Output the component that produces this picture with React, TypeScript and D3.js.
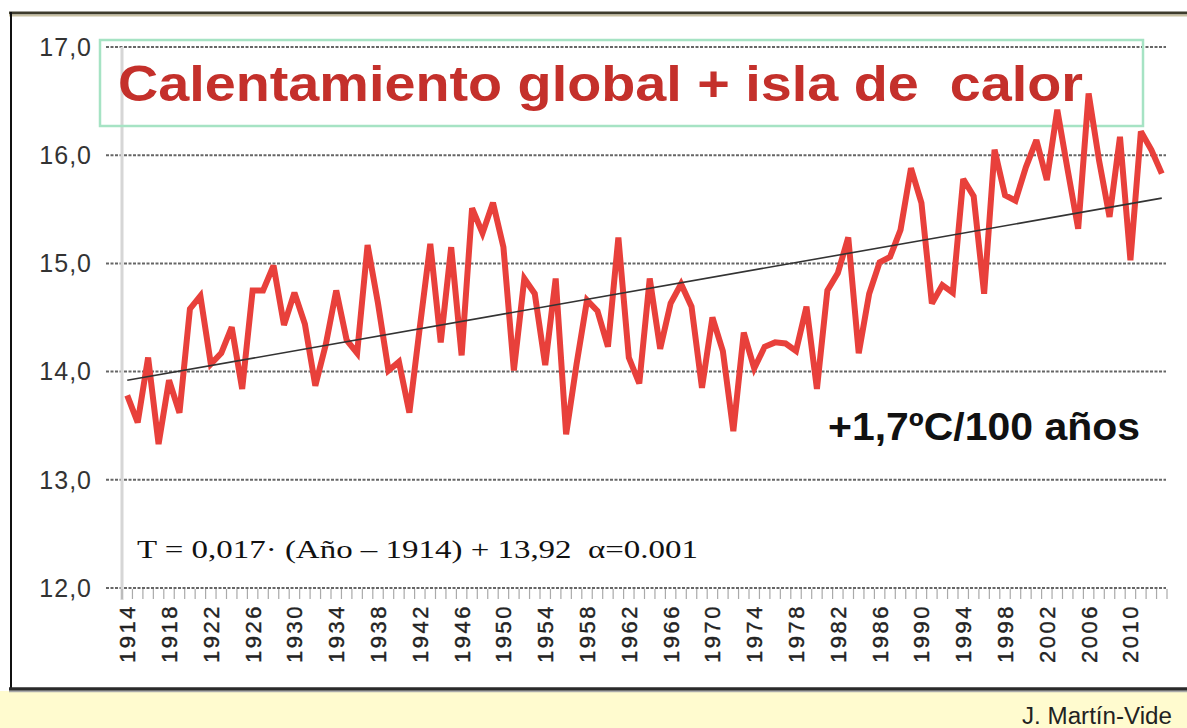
import React, { useEffect, useRef } from 'react';
import * as d3 from 'd3';

// years 1914..2013
const years: number[] = d3.range(1914, 2014);

// mean annual temperature (ºC)
const temps: number[] = [
  13.78, 13.53, 14.13, 13.33, 13.92, 13.62, 14.58, 14.70, 14.07, 14.17,
  14.41, 13.84, 14.75, 14.75, 14.98, 14.43, 14.73, 14.44, 13.87, 14.25,
  14.75, 14.29, 14.17, 15.17, 14.63, 14.01, 14.09, 13.62, 14.41, 15.18,
  14.27, 15.15, 14.15, 15.51, 15.28, 15.56, 15.15, 14.01, 14.86, 14.72,
  14.06, 14.86, 13.42, 14.07, 14.66, 14.56, 14.23, 15.24, 14.13, 13.89,
  14.86, 14.21, 14.63, 14.81, 14.60, 13.85, 14.50, 14.19, 13.45, 14.36,
  14.03, 14.23, 14.27, 14.26, 14.19, 14.60, 13.84, 14.75, 14.91, 15.24,
  14.17, 14.72, 15.01, 15.06, 15.31, 15.88, 15.56, 14.63, 14.80, 14.73,
  15.78, 15.62, 14.72, 16.05, 15.63, 15.58, 15.89, 16.14, 15.77, 16.42,
  15.86, 15.32, 16.57, 15.95, 15.43, 16.17, 15.03, 16.22, 16.05, 15.83,
];

const yTicks: number[] = [12, 13, 14, 15, 16, 17];
const xLabelYears: number[] = d3.range(1914, 2014, 4);

// trend T = 0,017·(Año – 1914) + 13,92
const trendSlope = 0.017;
const trendIntercept = 13.92;

const title = 'Calentamiento global + isla de  calor';
const rateText = '+1,7ºC/100 años';
const formulaText = 'T = 0,017· (Año – 1914) + 13,92  α=0.001';
const author = 'J. Martín-Vide';

export default function App() {
  const ref = useRef<SVGSVGElement | null>(null);

  useEffect(() => {
    const svg = d3.select(ref.current);
    svg.selectAll('*').remove();

    const W = 1187, H = 728;

    // background + frame
    svg.append('rect').attr('width', W).attr('height', H).attr('fill', '#fff');
    svg.append('rect').attr('x', 0).attr('y', 691).attr('width', W).attr('height', H - 691)
      .attr('fill', '#fffbcf');
    svg.append('line').attr('x1', 9).attr('x2', W).attr('y1', 13).attr('y2', 13)
      .attr('stroke', '#3d3b2c').attr('stroke-width', 3);
    svg.append('line').attr('x1', 9).attr('x2', W).attr('y1', 15.5).attr('y2', 15.5)
      .attr('stroke', '#c9c1a3').attr('stroke-width', 2);
    svg.append('line').attr('x1', 11).attr('x2', 11).attr('y1', 12).attr('y2', 690)
      .attr('stroke', '#111').attr('stroke-width', 2);
    svg.append('line').attr('x1', 9).attr('x2', W).attr('y1', 689).attr('y2', 689)
      .attr('stroke', '#2a2a2a').attr('stroke-width', 3.5);
    svg.append('line').attr('x1', 9).attr('x2', W).attr('y1', 691.5).attr('y2', 691.5)
      .attr('stroke', '#aaa').attr('stroke-width', 1.5);

    const x = d3.scaleBand<number>().domain(years).range([122, 1167]).paddingInner(0).paddingOuter(0);
    const y = d3.scaleLinear().domain([12, 17]).range([588, 47]);
    const cx = (yr: number) => (x(yr) as number) + x.bandwidth() / 2;

    // gridlines
    svg.append('g').selectAll('line').data(yTicks).enter().append('line')
      .attr('x1', 106).attr('x2', 1166)
      .attr('y1', d => y(d)).attr('y2', d => y(d))
      .attr('stroke', '#666').attr('stroke-width', 2).attr('stroke-dasharray', '3,1.5');

    // y labels
    svg.append('g').selectAll('text').data(yTicks).enter().append('text')
      .attr('x', 92).attr('y', d => y(d)).attr('dy', '0.35em')
      .attr('text-anchor', 'end')
      .style('font-family', '"Liberation Sans", Arial, sans-serif')
      .style('font-size', '25px').style('letter-spacing', '1px').attr('fill', '#333')
      .text(d => d3.format('.1f')(d).replace('.', ','));

    // left axis
    svg.append('line').attr('x1', 122).attr('x2', 122).attr('y1', 47).attr('y2', 600)
      .attr('stroke', '#d6d6d6').attr('stroke-width', 3);

    // x ticks, one per year
    const tickPos = years.map(yr => x(yr) as number).concat([x.range()[1]]);
    svg.append('g').selectAll('line').data(tickPos).enter().append('line')
      .attr('x1', d => d).attr('x2', d => d)
      .attr('y1', 589).attr('y2', 599)
      .attr('stroke', '#aaa').attr('stroke-width', 1.2);

    // x labels
    svg.append('g').selectAll('text').data(xLabelYears).enter().append('text')
      .attr('transform', d => `translate(${cx(d)},604) rotate(-90)`)
      .attr('text-anchor', 'end').attr('dy', '0.36em')
      .style('font-family', '"Liberation Sans", Arial, sans-serif')
      .style('font-size', '22px').style('letter-spacing', '2.5px')
      .attr('fill', '#222').attr('stroke', '#222').attr('stroke-width', 0.4)
      .text(d => String(d));

    // title box
    svg.append('rect').attr('x', 100).attr('y', 40).attr('width', 1043).attr('height', 86)
      .attr('fill', 'none').attr('stroke', '#a6e3c4').attr('stroke-width', 2.5);

    // data line
    const line = d3.line<number>().x((_, i) => cx(years[i])).y(d => y(d));
    svg.append('path').datum(temps).attr('d', line)
      .attr('fill', 'none').attr('stroke', '#e8403b').attr('stroke-width', 6)
      .attr('stroke-linejoin', 'miter').attr('stroke-miterlimit', 3);

    // trend line
    const first = years[0], last = years[years.length - 1];
    svg.append('line')
      .attr('x1', cx(first)).attr('y1', y(trendSlope * (first - 1914) + trendIntercept))
      .attr('x2', cx(last)).attr('y2', y(trendSlope * (last - 1914) + trendIntercept))
      .attr('stroke', '#333').attr('stroke-width', 1.6);

    // title
    svg.append('text').attr('x', 118).attr('y', 101)
      .attr('xml:space', 'preserve').style('white-space', 'pre')
      .attr('textLength', 965).attr('lengthAdjust', 'spacingAndGlyphs')
      .style('font-family', '"Liberation Sans", Arial, sans-serif')
      .style('font-weight', 'bold').style('font-size', '50px')
      .attr('fill', '#c4302b')
      .text(title);

    svg.append('text').attr('x', 828).attr('y', 440)
      .attr('textLength', 312).attr('lengthAdjust', 'spacingAndGlyphs')
      .style('font-family', '"Liberation Sans", Arial, sans-serif')
      .style('font-weight', 'bold').style('font-size', '38px')
      .attr('fill', '#111')
      .text(rateText);

    svg.append('text').attr('x', 137).attr('y', 558)
      .style('white-space', 'pre')
      .attr('textLength', 561).attr('lengthAdjust', 'spacingAndGlyphs')
      .style('font-family', '"Liberation Serif", "Times New Roman", serif')
      .style('font-size', '26px').attr('fill', '#111')
      .text(formulaText);

    svg.append('text').attr('x', 1172).attr('y', 724)
      .attr('text-anchor', 'end')
      .attr('textLength', 150).attr('lengthAdjust', 'spacingAndGlyphs')
      .style('font-family', '"Liberation Sans", Arial, sans-serif')
      .style('font-size', '23px').attr('fill', '#222')
      .text(author);
  }, []);

  return (
    <svg ref={ref} width={1187} height={728}
      style={{ position: 'absolute', left: 0, top: 0, display: 'block' }} />
  );
}
